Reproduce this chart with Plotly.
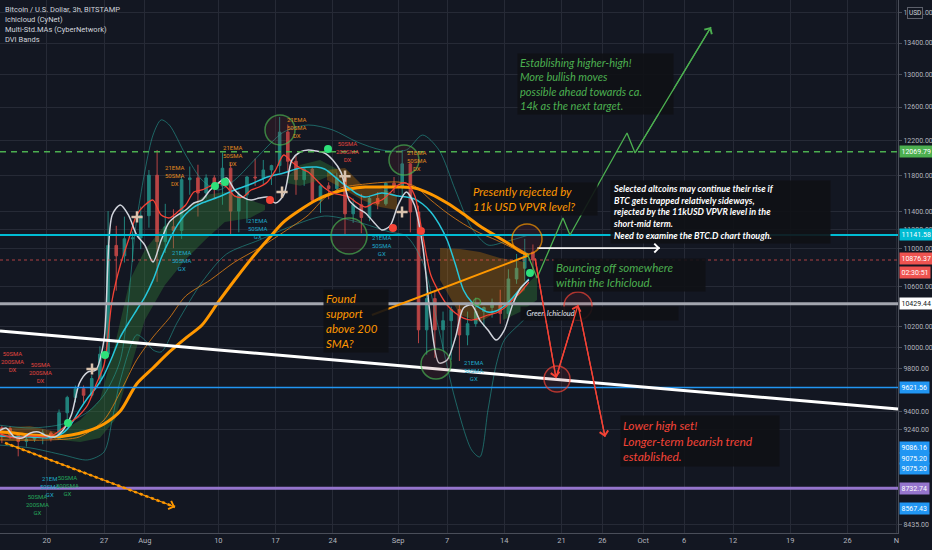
import math
import pandas as pd
import plotly.graph_objects as go

# ---------------- visible window ----------------
x_start, x_end = '2020-07-14 06:30', '2020-11-01 04:30'
y_low, y_high = 8365, 13966

# ---------------- candles (BTC/USD, daily OHLC) ----------------
candle_dates = pd.date_range('2020-07-14 12:00', '2020-09-17 12:00', freq='D')
candle_open = [9255, 9250, 9190, 9135, 9155, 9175, 9210, 9160, 9390, 9530, 9610, 9550, 9705, 9935, 11030, 10920, 11100, 11110,
               11350, 11800, 11070, 11230, 11190, 11750, 11770, 11600, 11770, 11680, 11880, 11400, 11580, 11780, 11770, 11860,
               11910, 12300, 11960, 11750, 11870, 11520, 11680, 11650, 11770, 11370, 11470, 11330, 11540, 11480, 11710,
               11660, 11930, 11390, 10170, 10480, 10170, 10260, 10370, 10120, 10230, 10350, 10390, 10440, 10330, 10680, 10790, 10960]
candle_high = [9275, 9270, 9210, 9185, 9195, 9240, 9225, 9420, 9545, 9640, 9640, 9735, 10010, 11400, 11240, 11340, 11180, 11450,
               11860, 12090, 11480, 11420, 11790, 11900, 11920, 11810, 11800, 12060, 11940, 11620, 11790, 11990, 11975, 11920,
               12480, 12390, 12020, 11880, 11890, 11690, 11720, 11830, 11790, 11540, 11590, 11560, 11610, 11720, 11780,
               12090, 11940, 11460, 10630, 10560, 10350, 10400, 10420, 10350, 10490, 10400, 10480, 10570, 10780, 10940, 11100, 11040]
candle_low = [9120, 9155, 9005, 9090, 9130, 9110, 9135, 9150, 9300, 9485, 9475, 9530, 9650, 9910, 10560, 10850, 10855, 10990,
              11220, 10650, 10950, 11000, 11100, 11580, 11340, 11540, 11530, 11470, 11150, 11170, 11270, 11680, 11700, 11690,
              11830, 11820, 11580, 11680, 11500, 11380, 11530, 11590, 11130, 11270, 11160, 11290, 11420, 11460, 11600,
              11550, 11170, 10040, 9930, 9900, 9980, 9880, 9870, 10020, 10200, 10200, 10290, 10230, 10270, 10630, 10660, 10750]
candle_close = [9250, 9190, 9135, 9155, 9175, 9210, 9160, 9390, 9530, 9610, 9550, 9705, 9935, 11030, 10920, 11100, 11110, 11350,
                11800, 11070, 11230, 11190, 11750, 11770, 11600, 11770, 11680, 11880, 11400, 11580, 11780, 11770, 11860, 11910,
                12300, 11960, 11750, 11870, 11520, 11680, 11650, 11770, 11370, 11470, 11330, 11540, 11480, 11710, 11660,
                11930, 11390, 10170, 10480, 10170, 10260, 10370, 10120, 10230, 10350, 10390, 10440, 10330, 10680, 10790, 10960, 10876]

# ---------------- moving averages ----------------
white_dates = pd.date_range('2020-07-14', '2020-09-17', freq='D')
white_vals = [9219, 9254, 9175, 9166, 9210, 9219, 9184, 9175, 9236, 9370, 9663, 9765, 9784, 10071, 11357, 11467, 11357, 11141,
              11034, 10855, 11087, 11282, 11357, 11412, 11489, 11522, 11634, 11712, 11768, 11634, 11555, 11522, 11544, 11555,
              11489, 11578, 11974, 12067, 12090, 12078, 12055, 11974, 11836, 11522, 11434, 11379, 11282, 11195, 11238,
              11467, 11611, 11467, 11034, 10266, 9851, 9880, 10090, 10386, 10416, 10266, 10168, 10071, 10168, 10416, 10587, 10669]

red_dates = ['2020-07-14', '2020-07-16', '2020-07-18'] + list(pd.date_range('2020-07-20', '2020-09-17', freq='D'))
red_vals = [9210, 9166, 9184, 9175, 9201, 9254, 9308, 9370, 9461, 9645, 9832, 10466, 10824, 11087, 11357,
            11467, 11522, 11357, 11325, 11390, 11467, 11611, 11634, 11678, 11712, 11667, 11566, 11555, 11634, 11667, 11723,
            11859, 12032, 11951, 11882, 11836, 11746, 11656, 11600, 11578, 11555, 11489, 11445, 11489, 11522, 11600,
            11690, 11712, 11578, 11141, 10720, 10546, 10416, 10336, 10286, 10266, 10286, 10316, 10336, 10386, 10466, 10546, 10648]

cyan_dates = ['2020-07-14', '2020-07-16', '2020-07-18', '2020-07-20', '2020-07-21', '2020-07-22', '2020-07-23', '2020-07-24',
              '2020-07-25', '2020-07-26', '2020-07-27', '2020-07-28', '2020-07-29', '2020-07-30', '2020-07-31',
              '2020-08-01', '2020-08-02', '2020-08-03', '2020-08-04', '2020-08-05', '2020-08-06', '2020-08-07', '2020-08-08',
              '2020-08-10', '2020-08-12', '2020-08-14', '2020-08-16', '2020-08-18', '2020-08-20', '2020-08-22',
              '2020-08-23', '2020-08-24', '2020-08-25', '2020-08-26', '2020-08-27', '2020-08-28', '2020-08-30',
              '2020-09-01', '2020-09-02', '2020-09-03', '2020-09-04', '2020-09-05', '2020-09-06', '2020-09-07', '2020-09-08',
              '2020-09-09', '2020-09-10', '2020-09-11', '2020-09-12', '2020-09-13', '2020-09-14', '2020-09-15', '2020-09-16',
              '2020-09-17']
cyan_vals = [9184, 9175, 9175, 9166, 9175, 9210, 9290, 9415, 9525, 9617, 9737, 9908, 10100, 10237, 10366,
             10496, 10668, 10897, 11087, 11249, 11368, 11445, 11489,
             11555, 11634, 11701, 11780, 11825, 11882, 11893,
             11871, 11802, 11723, 11656, 11589, 11555, 11600,
             11566, 11555, 11533, 11478, 11391, 11260, 11087, 10834, 10567, 10446, 10386, 10346, 10356, 10406, 10486, 10587,
             10679]

sma200_dates = ['2020-07-14', '2020-07-16', '2020-07-18', '2020-07-20', '2020-07-21', '2020-07-23', '2020-07-25', '2020-07-27',
                '2020-07-29', '2020-07-31', '2020-08-02', '2020-08-04', '2020-08-06', '2020-08-08', '2020-08-10', '2020-08-12',
                '2020-08-14', '2020-08-16', '2020-08-18', '2020-08-20', '2020-08-22', '2020-08-24', '2020-08-26', '2020-08-28',
                '2020-08-30', '2020-09-01', '2020-09-03', '2020-09-05', '2020-09-07', '2020-09-09', '2020-09-11', '2020-09-13',
                '2020-09-15', '2020-09-17']
sma200_vals = [9219, 9210, 9192, 9184, 9175, 9192, 9227, 9290, 9406, 9654, 9803, 9956, 10090, 10217, 10446, 10669,
               10886, 11087, 11282, 11412, 11522, 11600, 11645, 11667, 11667, 11667, 11656, 11589, 11489, 11368, 11238, 11130,
               11023, 10918]

sma100_dates = ['2020-07-14', '2020-07-20', '2020-07-24', '2020-07-27', '2020-07-29', '2020-07-31', '2020-08-02', '2020-08-04',
                '2020-08-06', '2020-08-09', '2020-08-12', '2020-08-15', '2020-08-18', '2020-08-21', '2020-08-23', '2020-08-25',
                '2020-08-28', '2020-09-01', '2020-09-03', '2020-09-05', '2020-09-07', '2020-09-09', '2020-09-11', '2020-09-13',
                '2020-09-15', '2020-09-17']
sma100_vals = [9148, 9148, 9175, 9326, 9580, 9880, 10100, 10286, 10506, 10669, 10855, 11002, 11173, 11357, 11544, 11656,
               11701, 11723, 11678, 11522, 11379, 11260, 11162, 11087, 11002, 10907]

# ---------------- DVI bands ----------------
band_up_dates = ['2020-07-14', '2020-07-18', '2020-07-22', '2020-07-25', '2020-07-27', '2020-07-29', '2020-07-31', '2020-08-02',
                 '2020-08-03', '2020-08-04', '2020-08-06', '2020-08-08', '2020-08-10', '2020-08-12', '2020-08-15', '2020-08-18',
                 '2020-08-21', '2020-08-24', '2020-08-27', '2020-08-30', '2020-09-02', '2020-09-04', '2020-09-06', '2020-09-08',
                 '2020-09-10', '2020-09-12', '2020-09-14', '2020-09-17']
band_up_vals = [9281, 9254, 9290, 9397, 9553, 9880, 11303, 12265, 12445, 12384, 12032, 11746, 11634, 11746, 12032, 12301,
                12384, 12325, 12183, 12090, 12090, 12265, 12090, 11634, 11216, 11034, 11066, 11141]
band_lo_dates = ['2020-07-14', '2020-07-18', '2020-07-22', '2020-07-25', '2020-07-27', '2020-07-28', '2020-07-29', '2020-07-31',
                 '2020-08-01', '2020-08-02', '2020-08-03', '2020-08-05', '2020-08-08', '2020-08-11', '2020-08-15', '2020-08-19',
                 '2020-08-23', '2020-08-27', '2020-08-31', '2020-09-02', '2020-09-04', '2020-09-06', '2020-09-08', '2020-09-10',
                 '2020-09-11', '2020-09-12', '2020-09-13', '2020-09-14', '2020-09-16', '2020-09-17']
band_lo_vals = [9104, 9078, 9017, 8974, 9043, 9326, 9690, 10120, 10071, 9975, 9956, 10247, 10648, 10939, 11087, 11238,
                11346, 11282, 11173, 11130, 10855, 10168, 9506, 9060, 9000, 9415, 9832, 10071, 10237, 10316]

# ---------------- Ichimoku clouds (top / bottom edges) ----------------
cloud_g1_dates = ['2020-07-21 15:00', '2020-07-24 02:00', '2020-07-26 12:00', '2020-07-28 08:00', '2020-07-30 04:00',
                  '2020-08-01 00:00', '2020-08-03 11:00', '2020-08-05 22:00', '2020-08-08 09:00', '2020-08-10 19:00',
                  '2020-08-13 21:00', '2020-08-15 17:00']
cloud_g1_top = [9219, 9326, 9506, 10022, 10669, 10981, 11249, 11412, 11578, 11611, 11522, 11467]
cloud_g1_bot = [9148, 9131, 9166, 9326, 9784, 10266, 10618, 10876, 11087, 11282, 11325, 11412]
cloud_g2_dates = ['2020-08-18 09:30', '2020-08-20 00:00', '2020-08-22 10:30', '2020-08-24 12:30']
cloud_g2_top = [11780, 11916, 11974, 11870]
cloud_g2_bot = [11712, 11680, 11746, 11830]
cloud_g3_dates = ['2020-09-13 20:00', '2020-09-15 22:00', '2020-09-18 00:00']
cloud_g3_top = [10416, 10567, 10720]
cloud_g3_bot = [10266, 10346, 10466]
cloud_b1_dates = ['2020-07-14 06:30', '2020-07-17 22:30', '2020-07-21 06:00']
cloud_b1_top = [9254, 9272, 9219]
cloud_b1_bot = [9148, 9148, 9175]
cloud_b2_dates = ['2020-08-23 07:00', '2020-08-25 12:00', '2020-08-27 14:00', '2020-08-29 18:45', '2020-08-31 20:40']
cloud_b2_top = [11859, 11882, 11690, 11656, 11578]
cloud_b2_bot = [11746, 11634, 11522, 11445, 11412]
cloud_b3_dates = ['2020-09-06 03:10', '2020-09-08 14:00', '2020-09-11 00:30', '2020-09-13 11:20', '2020-09-16 12:45']
cloud_b3_top = [11002, 10991, 10960, 10897, 10855]
cloud_b3_bot = [10669, 10316, 10247, 10366, 10567]

# ---------------- horizontal levels ----------------
level_prices = [12069.79, 11141.58, 10876.37, 10429.44, 9621.56, 8732.74]
level_colors = ['#4caf50', '#00bcd4', 'rgba(239,83,80,0.7)', '#a3a6af', '#2196f3', '#9575cd']
level_widths = [1.5, 2, 1, 3, 1.5, 3]
level_dashes = ['6px,5px', 'solid', 'dot', 'solid', 'solid', 'solid']

scale_label_prices = [12069.79, 11141.58, 10876.37, 10429.44, 9621.56, 9086.16, 9075.20, 9075.20, 8732.74, 8567.43]
scale_label_bg = ['#4caf50', '#00bcd4', '#ef5350', '#ffffff', '#2196f3', '#2196f3', '#2196f3', '#2196f3', '#9575cd', '#2196f3']
scale_label_fg = ['#ffffff', '#ffffff', '#ffffff', '#131722', '#ffffff', '#ffffff', '#ffffff', '#ffffff', '#ffffff', '#ffffff']
scale_label_shift = [0, 0, 2, 0, 0, 0, -10, -20, 0, 0]

# ---------------- drawings ----------------
trend_times = [x_start, x_end]
trend_prices = [10159, 9424]
support_times = ['2020-08-28 19:10', '2020-09-16 18:40']
support_prices = [10316, 10918]
green_path_times = ['2020-09-16 18:40', '2020-09-18 00:00', '2020-09-21 04:20', '2020-09-22 01:00', '2020-09-29 00:30',
                    '2020-09-30 00:00', '2020-10-09 07:10']
green_path_prices = [10949, 10689, 11325, 11141, 12289, 12055, 13608]
red_path_times = ['2020-09-17 18:15', '2020-09-20 07:55', '2020-09-23 00:30', '2020-09-26 07:55']
red_path_prices = [10897, 9709, 10416, 9175]
white_arrow_times = ['2020-09-18 00:00', '2020-10-03 01:25']
white_arrow_prices = [11002, 11002]
dotted_times = ['2020-07-14 21:10', '2020-08-04 16:35']
dotted_prices = [9122, 8577]

circle_times = ['2020-08-17 13:00', '2020-09-01 17:15', '2020-08-25 23:45', '2020-09-05 15:20', '2020-09-10 15:50',
                '2020-09-16 18:40', '2020-09-20 10:50', '2020-09-23 00:30']
circle_prices = [12325, 11974, 11130, 9841, 10446, 11098, 9700, 10406]
circle_sizes = [30, 30, 36, 30, 7, 30, 26, 28]
circle_colors = ['#4caf50', '#4caf50', '#4caf50', '#4caf50', '#4caf50', '#ff9800', '#f44336', '#f44336']

red_dot_times = ['2020-08-16 07:40', '2020-08-31 08:50', '2020-09-03 19:10']
red_dot_prices = [11522, 11216, 11184]
green_dot_times = ['2020-08-23 10:05', '2020-08-10 19:25', '2020-08-09 14:10', '2020-07-27 02:55', '2020-07-22 14:10',
                   '2020-09-17 03:25']
green_dot_prices = [12101, 11723, 11678, 9927, 9299, 10741]
cross_times = ['2020-07-31 01:00', '2020-08-17 19:00', '2020-08-25 12:00', '2020-09-01 11:30', '2020-07-25 12:45']
cross_prices = [11336, 11611, 11790, 11390, 9794]

# ---------------- texts ----------------
note_texts = [
    '<i>Establishing higher-high!<br>More bullish moves<br>possible ahead towards ca.<br>14k as the next target.</i>',
    '<i>Presently rejected by<br>11k USD VPVR level?</i>',
    '<b><i>Selected altcoins may continue their rise if<br>BTC gets trapped relatively sideways,<br>'
    'rejected by the 11kUSD VPVR level in the<br>short-mid term.<br>Need to examine the BTC.D chart though.</i></b>',
    '<i>Bouncing off somewhere<br>within the Ichicloud.</i>',
    '<i>Found<br>support<br>above 200<br>SMA?</i>',
    '<i>&nbsp;&nbsp;Green Ichicloud</i>',
    '<i>Lower high set!<br>Longer-term bearish trend<br>established.</i>',
]
note_times = ['2020-09-15 13:10', '2020-09-09 19:10', '2020-09-26 22:30', '2020-09-19 23:00', '2020-08-22 19:25',
              '2020-09-15 22:05', '2020-09-28 03:50']
note_prices = [13272, 11723, 11746, 10897, 10577, 10406, 9370]
note_colors = ['#4caf50', '#ff9800', '#ffffff', '#4caf50', '#ff9800', '#e0e3eb', '#f44336']
note_sizes = [11, 11.5, 9, 11.5, 11.5, 7.5, 12]
note_widths = [151, 122, 215, 147, 60, 153, 154]

ma_label_texts = ['50SMA<br>200SMA<br>DX', '50SMA<br>200SMA<br>DX', '21EMA<br>50SMA<br>DX', '21EMA<br>50SMA<br>DX',
                  '21EMA<br>50SMA<br>DX', '50SMA<br>200SMA<br>DX', '21EMA<br>50SMA<br>DX', '21EMA<br>50SMA<br>GX',
                  '21EMA<br>50SMA<br>GX', '21EMA<br>50SMA<br>GX', '21EMA<br>50SMA<br>GX', '21EM<br>50SMA<br>GX',
                  '50SMA<br>200SMA<br>GX', '50SMA<br>200SMA<br>GX']
ma_label_times = ['2020-07-15 17:45', '2020-07-19 04:00', '2020-08-04 16:50', '2020-08-11 19:00', '2020-08-19 14:50',
                  '2020-08-25 20:25', '2020-09-03 07:25', '2020-08-05 13:10', '2020-08-14 20:25', '2020-08-30 00:45',
                  '2020-09-10 07:00', '2020-07-20 09:25', '2020-07-22 11:20', '2020-07-18 22:00']
ma_label_prices = [9861, 9765, 11802, 12032, 12349, 12078, 11974, 10876, 11216, 11034, 9784, 8744, 8752, 8594]
ma_label_colors = ['#e0453f', '#e0453f', '#e08a1e', '#e08a1e', '#e08a1e', '#e0453f', '#e08a1e', '#1fa8c9',
                   '#1fa8c9', '#1fa8c9', '#1fa8c9', '#1fa8c9', '#26a65b', '#26a65b']

x_tick_vals = ['2020-07-20', '2020-07-27', '2020-08-01', '2020-08-10', '2020-08-17', '2020-08-24', '2020-09-01',
               '2020-09-07', '2020-09-14', '2020-09-21', '2020-09-26', '2020-10-01', '2020-10-06', '2020-10-12',
               '2020-10-19', '2020-10-26', '2020-11-01']
x_tick_text = ['20', '27', 'Aug', '10', '17', '24', 'Sep', '7', '14', '21', '26', 'Oct', '6', '12', '19', '26', 'N']
y_tick_vals = [8435, 9240, 9400, 9800, 10000, 10200, 10600, 11000, 11200, 11400, 11800, 12200, 12600, 13000, 13400, 13800]

header_lines = ['Bitcoin / U.S. Dollar, 3h, BITSTAMP', 'Ichicloud (CyNet)', 'Multi-Std.MAs (CyberNetwork)', 'DVI Bands']

# ---------------- build figure ----------------
BG = '#131722'
GRID = '#262a36'
AXT = '#b2b5be'
FONT = 'Roboto'
NOTE_FONT = 'Lato'


def lg(p):
    return math.log10(p)


fig = go.Figure()
fig.add_trace(go.Candlestick(
    x=candle_dates, open=candle_open, high=candle_high, low=candle_low, close=candle_close,
    increasing=dict(line=dict(color='#26a69a', width=1), fillcolor='#26a69a'),
    decreasing=dict(line=dict(color='#ef5350', width=1), fillcolor='#ef5350'),
    whiskerwidth=0, hoverinfo='skip', opacity=0.75))

clouds = [
    (cloud_g1_dates, cloud_g1_top, cloud_g1_bot, 'rgba(56,142,60,0.34)'),
    (cloud_g2_dates, cloud_g2_top, cloud_g2_bot, 'rgba(56,142,60,0.34)'),
    (cloud_g3_dates, cloud_g3_top, cloud_g3_bot, 'rgba(56,142,60,0.34)'),
    (cloud_b1_dates, cloud_b1_top, cloud_b1_bot, 'rgba(255,152,0,0.26)'),
    (cloud_b2_dates, cloud_b2_top, cloud_b2_bot, 'rgba(255,152,0,0.26)'),
    (cloud_b3_dates, cloud_b3_top, cloud_b3_bot, 'rgba(255,152,0,0.26)'),
]
for d, t, b, c in clouds:
    d = list(d)
    fig.add_trace(go.Scatter(x=d + d[::-1], y=list(t) + list(b)[::-1], fill='toself', fillcolor=c,
                             mode='lines', line=dict(width=0), hoverinfo='skip'))


def add_line(x, y, color, width, dash='solid', shape='spline'):
    fig.add_trace(go.Scatter(x=list(x), y=list(y), mode='lines', hoverinfo='skip',
                             line=dict(color=color, width=width, dash=dash, shape=shape,
                                       smoothing=0.8 if shape == 'spline' else None)))


add_line(band_up_dates, band_up_vals, 'rgba(38,166,154,0.55)', 1)
add_line(band_lo_dates, band_lo_vals, 'rgba(38,166,154,0.55)', 1)
add_line(sma100_dates, sma100_vals, 'rgba(230,130,20,0.8)', 1)
add_line(sma200_dates, sma200_vals, '#ff9800', 3)
add_line(cyan_dates, cyan_vals, '#26c6da', 1.5)
add_line(red_dates, red_vals, '#f44336', 1.3)
add_line(white_dates, white_vals, '#d1d4dc', 1.5)

for p, c, w, dsh in zip(level_prices, level_colors, level_widths, level_dashes):
    add_line([x_start, x_end], [p, p], c, w, dsh, 'linear')

add_line(trend_times, trend_prices, '#ffffff', 3, 'solid', 'linear')
add_line(support_times, support_prices, '#ff9800', 2, 'solid', 'linear')
add_line(green_path_times, green_path_prices, '#4caf50', 1.3, 'solid', 'linear')
add_line(red_path_times, red_path_prices, '#f44336', 1.3, 'solid', 'linear')
add_line(white_arrow_times, white_arrow_prices, '#ffffff', 1.3, 'solid', 'linear')
add_line(dotted_times, dotted_prices, '#ff9800', 2.5, 'dot', 'linear')

fig.add_trace(go.Scatter(x=circle_times, y=circle_prices, mode='markers', hoverinfo='skip',
                         marker=dict(symbol='circle', size=circle_sizes, color='rgba(140,40,50,0.22)',
                                     line=dict(color=circle_colors, width=1.5))))
fig.add_trace(go.Scatter(x=red_dot_times, y=red_dot_prices, mode='markers', hoverinfo='skip',
                         marker=dict(symbol='circle', size=8, color='#f44336')))
fig.add_trace(go.Scatter(x=green_dot_times, y=green_dot_prices, mode='markers', hoverinfo='skip',
                         marker=dict(symbol='circle', size=8, color='#2ee07a')))
fig.add_trace(go.Scatter(x=cross_times, y=cross_prices, mode='markers', hoverinfo='skip',
                         marker=dict(symbol='cross-thin', size=8, line=dict(color='#d9c2ad', width=2.5))))

ann = []
# header
for i, t in enumerate(header_lines):
    ann.append(dict(xref='paper', yref='paper', x=0, y=1, xanchor='left', yanchor='middle',
                    xshift=3, yshift=-(9 + i * 10), text=t, showarrow=False,
                    font=dict(family=FONT, size=7.5, color='#d1d4dc')))
# USD box
ann.append(dict(xref='paper', yref='paper', x=1, y=1, xanchor='center', yanchor='middle', xshift=17, yshift=-13,
                text='USD', showarrow=False, bgcolor=BG, bordercolor='#5d606b', borderwidth=1, borderpad=1,
                font=dict(family=FONT, size=6.5, color='#d1d4dc')))
# price scale labels
for p, bg, fg, s in zip(scale_label_prices, scale_label_bg, scale_label_fg, scale_label_shift):
    ann.append(dict(xref='paper', yref='y', x=1, y=lg(p), xanchor='left', yanchor='middle', xshift=1, yshift=s,
                    text=f'{p:.2f}', showarrow=False, bgcolor=bg, borderpad=1.5,
                    font=dict(family=FONT, size=7, color=fg)))
ann.append(dict(xref='paper', yref='y', x=1, y=lg(10876.37), xanchor='left', yanchor='middle', xshift=1, yshift=-12,
                text='02:30:51', showarrow=False, bgcolor='#ef5350', borderpad=1.5,
                font=dict(family=FONT, size=7, color='#ffffff')))
# notes
for t, tm, p, c, s, w in zip(note_texts, note_times, note_prices, note_colors, note_sizes, note_widths):
    ann.append(dict(xref='x', yref='y', x=tm, y=lg(p), xanchor='left', yanchor='top', text=t, showarrow=False,
                    align='left', width=w, bgcolor='rgba(16,17,21,0.9)', borderpad=2,
                    font=dict(family=NOTE_FONT, size=s, color=c)))
# MA cross labels
for t, tm, p, c in zip(ma_label_texts, ma_label_times, ma_label_prices, ma_label_colors):
    ann.append(dict(xref='x', yref='y', x=tm, y=lg(p), xanchor='center', yanchor='middle', text=t, showarrow=False,
                    font=dict(family=FONT, size=6, color=c)))


def arrow(t0, p0, t1, p1, color):
    ann.append(dict(xref='x', yref='y', axref='x', ayref='y', x=t1, y=lg(p1), ax=t0, ay=lg(p0), text='',
                    showarrow=True, arrowhead=4, arrowsize=1.3, arrowwidth=1.3, arrowcolor=color, standoff=0))


arrow(green_path_times[-2], green_path_prices[-2], green_path_times[-1], green_path_prices[-1], '#4caf50')
for i in range(len(red_path_times) - 1):
    arrow(red_path_times[i], red_path_prices[i], red_path_times[i + 1], red_path_prices[i + 1], '#f44336')
arrow(white_arrow_times[0], white_arrow_prices[0], white_arrow_times[1], white_arrow_prices[1], '#ffffff')
arrow(dotted_times[0], dotted_prices[0], dotted_times[1], dotted_prices[1], '#ff9800')

fig.update_layout(
    width=932, height=550, margin=dict(l=0, r=34, t=0, b=17),
    paper_bgcolor=BG, plot_bgcolor=BG, showlegend=False, annotations=ann, boxgap=0.55,
    xaxis=dict(type='date', range=[x_start, x_end], tickvals=x_tick_vals, ticktext=x_tick_text,
               showgrid=True, gridcolor=GRID, gridwidth=1, zeroline=False, showline=True, linecolor='#4a4e59',
               ticks='', tickfont=dict(family=FONT, size=7.5, color=AXT), rangeslider=dict(visible=False),
               fixedrange=True),
    yaxis=dict(type='log', side='right', range=[lg(y_low), lg(y_high)], tickvals=y_tick_vals,
               ticktext=[f'{v:.2f}' for v in y_tick_vals], showgrid=True, gridcolor=GRID, gridwidth=1,
               zeroline=False, showline=True, linecolor='#4a4e59', ticks='outside', ticklen=3, tickcolor='#4a4e59',
               tickfont=dict(family=FONT, size=7, color=AXT), fixedrange=True),
)

fig.write_html('out.html', config={'displayModeBar': False},
               post_script="document.body.style.margin='0';document.body.style.padding='0';"
                           "document.body.style.background='#131722';document.body.style.overflow='hidden';")
